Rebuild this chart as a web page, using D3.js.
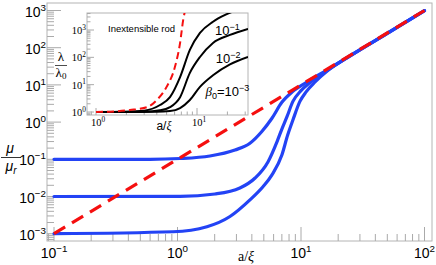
<!DOCTYPE html>
<html>
<head>
<meta charset="utf-8">
<script src="https://cdn.jsdelivr.net/npm/d3@7"></script>
<style>
body { margin: 0; background: #fff; }
svg { display: block; }
</style>
</head>
<body>
<svg width="436" height="265"></svg>
<script>
/*global d3*/
(function () {
    'use strict';

    // main plot: a/xi against mu/mu_r
    var xDecades = [-1, 0, 1, 2];
    var yDecades = [-3, -2, -1, 0, 1, 2, 3];

    var redLine = [[0.1, 0.001], [100, 1000]];

    var blueBeta1 = [[0.1, 0.1], [0.6, 0.1], [1.05, 0.105], [1.83, 0.123], [2.92, 0.178],
        [3.86, 0.27], [4.8, 0.55], [5.8, 1.25], [7.0, 3.4], [8.5, 6.5], [11, 11.6],
        [16.3, 25.5], [25, 61], [50, 245], [100, 990]];
    var blueBeta2 = [[0.1, 0.01], [1.05, 0.0101], [2.01, 0.0117], [3.2, 0.0169],
        [4.25, 0.0314], [5.4, 0.085], [6.4, 0.3], [7.0, 0.65], [7.7, 1.4], [8.6, 3.6],
        [10, 7], [12, 12], [16.3, 24.5], [25, 60.5], [50, 244], [100, 988]];
    var blueBeta3 = [[0.1, 0.001], [0.92, 0.00113], [1.73, 0.00154], [2.66, 0.0029],
        [3.86, 0.0081], [4.92, 0.0183], [5.82, 0.038], [7.0, 0.13], [7.8, 0.45],
        [8.6, 1.14], [9.8, 3.6], [11, 6.5], [13, 12], [16.3, 23.5], [25, 60], [50, 243], [100, 985]];

    // inset: a/xi against lambda/lambda_0
    var insetXDecades = [0, 1];
    var insetYDecades = [0, 1, 2, 3];

    var insetRod = [[1, 1.0], [1.5, 1.05], [2.17, 1.18], [3.2, 1.5], [4.0, 2.75], [5.0, 8.3],
        [6.05, 45], [6.8, 336], [7.3, 2340], [7.6, 5000]];
    var insetBeta1 = [[1, 1], [2, 1.03], [3, 1.12], [4.3, 1.8], [5.4, 3.5], [6.8, 19],
        [8.5, 187], [10.7, 780], [14.4, 2000], [19, 3550], [22, 4500]];
    var insetBeta2 = [[1, 1], [3, 1.03], [4.3, 1.15], [5.4, 1.5], [6.8, 3.5], [8.5, 27],
        [10.7, 103], [14.4, 336], [21.2, 660], [32, 1100]];
    var insetBeta3 = [[1, 1], [4, 1.02], [5.4, 1.08], [6.8, 1.4], [8.5, 2.75], [10.7, 8.3],
        [14.4, 22], [21.2, 55], [32, 103]];

    var curveLabels = [
        { text: '10', exp: '\u22121', x: 20, y: 660 },
        { text: '10', exp: '\u22122', x: 20.3, y: 62 },
        { text: '10', exp: '\u22123', x: 20, y: 3.9, beta: true }
    ];

    var svg = d3.select('svg');
    var SANS = 'Liberation Sans, Arial, sans-serif';
    var SERIF = 'Liberation Serif, Times New Roman, serif';

    // frame of the main plot
    var box = { left: 47, right: 432, top: 3, bottom: 241 };
    var x = d3.scaleLog().domain([0.1, 100]).range([54, 424.5]);
    var y = d3.scaleLog().domain([0.001, 1000]).range([233.7, 10.5]);

    function minorTicks(scale, lo, hi, decades) {
        var out = [];
        var d0 = d3.min(decades) - 1, d1 = d3.max(decades);
        var a = Math.min(scale.invert(lo), scale.invert(hi));
        var b = Math.max(scale.invert(lo), scale.invert(hi));
        var d, m, v;
        for (d = d0; d <= d1; d++) {
            for (m = 2; m <= 9; m++) {
                v = m * Math.pow(10, d);
                if (v >= a && v <= b) { out.push(v); }
            }
        }
        return out;
    }

    function powLabel(sel, exp, size) {
        sel.append('tspan').text('10');
        sel.append('tspan')
            .attr('dy', -size * 0.42)
            .attr('font-size', size * 0.7)
            .text(exp);
    }

    function expText(d) { return d < 0 ? '\u2212' + (-d) : String(d); }

    svg.append('defs').append('clipPath').attr('id', 'clipMain')
        .append('rect')
        .attr('x', box.left).attr('y', box.top)
        .attr('width', box.right - box.left).attr('height', box.bottom - box.top);

    var main = svg.append('g');

    main.append('rect')
        .attr('x', box.left).attr('y', box.top)
        .attr('width', box.right - box.left).attr('height', box.bottom - box.top)
        .attr('fill', 'none').attr('stroke', '#b4b4b4').attr('stroke-width', 1);

    // bottom ticks
    main.selectAll('.xmaj').data(xDecades).enter().append('line')
        .attr('class', 'xmaj')
        .attr('x1', function (d) { return x(Math.pow(10, d)); })
        .attr('x2', function (d) { return x(Math.pow(10, d)); })
        .attr('y1', box.bottom).attr('y2', box.bottom - 14)
        .attr('stroke', '#aaa');
    main.selectAll('.xmin').data(minorTicks(x, box.left, box.right, xDecades)).enter().append('line')
        .attr('class', 'xmin')
        .attr('x1', function (d) { return x(d); })
        .attr('x2', function (d) { return x(d); })
        .attr('y1', box.bottom).attr('y2', box.bottom - 7)
        .attr('stroke', '#aaa');

    // left ticks
    main.selectAll('.ymaj').data(yDecades).enter().append('line')
        .attr('class', 'ymaj')
        .attr('y1', function (d) { return y(Math.pow(10, d)); })
        .attr('y2', function (d) { return y(Math.pow(10, d)); })
        .attr('x1', box.left).attr('x2', box.left + 14)
        .attr('stroke', '#aaa');
    main.selectAll('.ymin').data(minorTicks(y, box.bottom, box.top, yDecades)).enter().append('line')
        .attr('class', 'ymin')
        .attr('y1', function (d) { return y(d); })
        .attr('y2', function (d) { return y(d); })
        .attr('x1', box.left).attr('x2', box.left + 7)
        .attr('stroke', '#aaa');

    main.selectAll('.xlab').data(xDecades).enter().append('text')
        .attr('class', 'xlab')
        .attr('x', function (d) { return x(Math.pow(10, d)); })
        .attr('y', 258)
        .attr('text-anchor', 'middle')
        .attr('font-family', SANS).attr('font-size', 14)
        .each(function (d) { powLabel(d3.select(this), expText(d), 14); });

    main.selectAll('.ylab').data(yDecades).enter().append('text')
        .attr('class', 'ylab')
        .attr('x', 46)
        .attr('y', function (d) { return y(Math.pow(10, d)) + 6; })
        .attr('text-anchor', 'end')
        .attr('font-family', SANS).attr('font-size', 14)
        .each(function (d) { powLabel(d3.select(this), expText(d), 14); });

    // axis titles
    main.append('text')
        .attr('x', 246).attr('y', 261)
        .attr('text-anchor', 'middle')
        .attr('font-family', SERIF).attr('font-size', 14)
        .html('a/<tspan font-style="italic">\u03be</tspan>');

    main.append('text')
        .attr('x', 10).attr('y', 153)
        .attr('text-anchor', 'middle')
        .attr('font-family', SANS).attr('font-style', 'italic').attr('font-size', 14)
        .text('\u03bc');
    main.append('line')
        .attr('x1', 1).attr('x2', 21).attr('y1', 157.5).attr('y2', 157.5)
        .attr('stroke', '#000').attr('stroke-width', 0.8);
    main.append('text')
        .attr('x', 11).attr('y', 171)
        .attr('text-anchor', 'middle')
        .attr('font-family', SANS).attr('font-style', 'italic').attr('font-size', 14)
        .html('\u03bc<tspan font-size="10" dy="3">r</tspan>');

    var line = d3.line()
        .x(function (d) { return x(d[0]); })
        .y(function (d) { return y(d[1]); })
        .curve(d3.curveMonotoneX);

    var curves = main.append('g').attr('clip-path', 'url(#clipMain)');

    curves.selectAll('.blue').data([blueBeta1, blueBeta2, blueBeta3]).enter().append('path')
        .attr('class', 'blue')
        .attr('d', line)
        .attr('fill', 'none')
        .attr('stroke', '#2343f5')
        .attr('stroke-width', 3.2)
        .attr('stroke-linecap', 'round');

    curves.append('path')
        .datum(redLine)
        .attr('d', line)
        .attr('fill', 'none')
        .attr('stroke', '#f50f0f')
        .attr('stroke-width', 3.2)
        .attr('stroke-dasharray', '13,8');

    // inset
    var ib = { left: 87, right: 248, top: 13, bottom: 115 };
    var ix = d3.scaleLog().domain([1, 10]).range([96, 197]);
    var iy = d3.scaleLog().domain([1, 1000]).range([112, 30]);

    svg.select('defs').append('clipPath').attr('id', 'clipInset')
        .append('rect')
        .attr('x', ib.left).attr('y', ib.top)
        .attr('width', ib.right - ib.left).attr('height', ib.bottom - ib.top);

    var inset = svg.append('g');

    inset.append('rect')
        .attr('x', ib.left).attr('y', ib.top)
        .attr('width', ib.right - ib.left).attr('height', ib.bottom - ib.top)
        .attr('fill', '#fff').attr('stroke', '#b4b4b4').attr('stroke-width', 1);

    inset.selectAll('.ixmaj').data(insetXDecades).enter().append('line')
        .attr('x1', function (d) { return ix(Math.pow(10, d)); })
        .attr('x2', function (d) { return ix(Math.pow(10, d)); })
        .attr('y1', ib.bottom).attr('y2', ib.bottom - 7)
        .attr('stroke', '#aaa');
    inset.selectAll('.ixmin').data(minorTicks(ix, ib.left, ib.right, insetXDecades)).enter().append('line')
        .attr('x1', function (d) { return ix(d); })
        .attr('x2', function (d) { return ix(d); })
        .attr('y1', ib.bottom).attr('y2', ib.bottom - 3.5)
        .attr('stroke', '#aaa');
    inset.selectAll('.iymaj').data(insetYDecades).enter().append('line')
        .attr('y1', function (d) { return iy(Math.pow(10, d)); })
        .attr('y2', function (d) { return iy(Math.pow(10, d)); })
        .attr('x1', ib.left).attr('x2', ib.left + 7)
        .attr('stroke', '#aaa');
    inset.selectAll('.iymin').data(minorTicks(iy, ib.bottom, ib.top, insetYDecades)).enter().append('line')
        .attr('y1', function (d) { return iy(d); })
        .attr('y2', function (d) { return iy(d); })
        .attr('x1', ib.left).attr('x2', ib.left + 3.5)
        .attr('stroke', '#aaa');

    inset.selectAll('.ixlab').data(insetXDecades).enter().append('text')
        .attr('x', function (d) { return ix(Math.pow(10, d)) + 2; })
        .attr('y', 126)
        .attr('text-anchor', 'middle')
        .attr('font-family', SERIF).attr('font-size', 10.5)
        .each(function (d) { powLabel(d3.select(this), expText(d), 10.5); });
    inset.selectAll('.iylab').data(insetYDecades).enter().append('text')
        .attr('x', 86)
        .attr('y', function (d) { return iy(Math.pow(10, d)) + 4; })
        .attr('text-anchor', 'end')
        .attr('font-family', SERIF).attr('font-size', 10.5)
        .each(function (d) { powLabel(d3.select(this), expText(d), 10.5); });

    inset.append('text')
        .attr('x', 164).attr('y', 130)
        .attr('text-anchor', 'middle')
        .attr('font-family', SANS).attr('font-size', 12)
        .html('a/<tspan font-family="' + SERIF + '" font-style="italic">\u03be</tspan>');

    inset.append('text')
        .attr('x', 61).attr('y', 61)
        .attr('text-anchor', 'middle')
        .attr('font-family', SERIF).attr('font-size', 13)
        .text('\u03bb');
    inset.append('line')
        .attr('x1', 55).attr('x2', 67).attr('y1', 65.5).attr('y2', 65.5)
        .attr('stroke', '#000').attr('stroke-width', 0.7);
    inset.append('text')
        .attr('x', 61).attr('y', 77)
        .attr('text-anchor', 'middle')
        .attr('font-family', SERIF).attr('font-size', 13)
        .html('\u03bb<tspan font-size="9" dy="2">0</tspan>');

    inset.append('text')
        .attr('x', 108).attr('y', 32)
        .attr('font-family', SANS).attr('font-size', 9.5)
        .text('Inextensible rod');

    var iline = d3.line()
        .x(function (d) { return ix(d[0]); })
        .y(function (d) { return iy(d[1]); })
        .curve(d3.curveMonotoneX);

    var icurves = inset.append('g').attr('clip-path', 'url(#clipInset)');

    icurves.selectAll('.black').data([insetBeta1, insetBeta2, insetBeta3]).enter().append('path')
        .attr('d', iline)
        .attr('fill', 'none')
        .attr('stroke', '#000')
        .attr('stroke-width', 2);

    icurves.append('path')
        .datum(insetRod)
        .attr('d', iline)
        .attr('fill', 'none')
        .attr('stroke', '#f50f0f')
        .attr('stroke-width', 2)
        .attr('stroke-dasharray', '7,4');

    // curve labels inside the inset
    inset.selectAll('.clab').data(curveLabels).enter().append('text')
        .attr('x', function (d) { return ix(d.x); })
        .attr('y', function (d) { return iy(d.y); })
        .attr('text-anchor', 'middle')
        .attr('font-family', SANS).attr('font-size', 13)
        .each(function (d) {
            var t = d3.select(this);
            if (d.beta) {
                t.append('tspan').attr('font-family', SERIF).attr('font-style', 'italic').text('\u03b2');
                t.append('tspan').attr('font-size', 9).attr('dy', 3).text('0');
                t.append('tspan').attr('dy', -3).text('=');
            }
            t.append('tspan').text(d.text);
            t.append('tspan').attr('dy', -5).attr('font-size', 9).text(d.exp);
        });
}());
</script>
</body>
</html>
